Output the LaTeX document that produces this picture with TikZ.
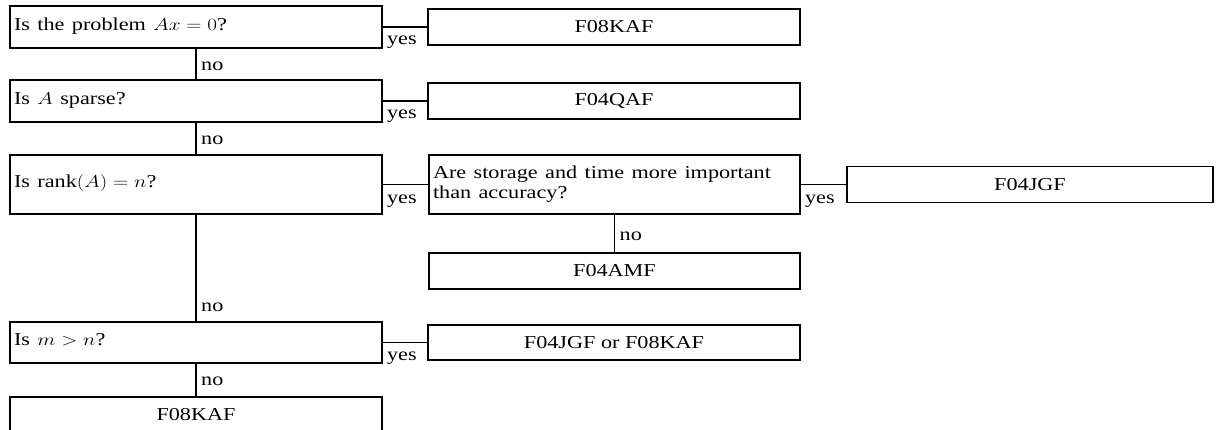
\documentclass[tikz,border=0pt]{standalone}
\usepackage{fontspec}
\setmainfont{Liberation Serif}
\usepackage{graphicx}
\newcommand{\wtxt}[1]{\scalebox{1.22}[1]{#1}}
\tikzset{
  box/.style={draw, line width=1.8pt, inner sep=4pt, font=\fontsize{18.2}{20}\selectfont},
  qbox/.style={box, text width=364pt, align=left, text height=12pt, text depth=5pt, minimum height=42pt},
  rbox/.style={box, minimum width=372pt, minimum height=36pt, align=center},
  conn/.style={line width=1.8pt},
  lab/.style={inner sep=0pt, font=\fontsize{18.2}{20}\selectfont},
}
\begin{document}
\begin{tikzpicture}[x=1pt,y=-1pt]
\useasboundingbox (0,0) rectangle (1216,430);
% question boxes
\node[qbox] (q1) at (196,27) {\wtxt{Is the problem $Ax=0$?}};
\node[qbox] (q2) at (196,101) {\wtxt{Is $A$ sparse?}};
\node[qbox, minimum height=59pt] (q3) at (196,184.5) {\wtxt{Is rank$(A)=n$?}};
\node[qbox, minimum height=41pt] (q4) at (196,342.5) {\wtxt{Is $m>n$?}};
\node[box, text width=363pt, align=left, minimum height=59pt] (q5) at (614.5,184.5)
  {\wtxt{\begin{tabular}{@{}l@{}}Are storage and time more important\\than accuracy?\end{tabular}}};
% result boxes
\node[rbox] (r1) at (614,27) {\wtxt{F08KAF}};
\node[rbox] (r2) at (614,101) {\wtxt{F04QAF}};
\node[rbox, minimum width=366pt] (r3) at (1030,184.5) {\wtxt{F04JGF}};
\node[rbox, minimum width=371pt] (r4) at (614.5,271) {\wtxt{F04AMF}};
\node[rbox, minimum height=35pt] (r5) at (614,342.5) {\wtxt{F04JGF or F08KAF}};
\node[rbox, minimum height=35pt] (r6) at (196,414.5) {\wtxt{F08KAF}};
% yes connectors
\draw[conn] (q1.east) -- (r1.west);
\draw[conn] (q2.east) -- (r2.west);
\draw[conn] (q3.east) -- (q5.west);
\draw[conn] (q5.east) -- (r3.west);
\draw[conn] (q4.east) -- (r5.west);
\node[lab, anchor=base west] (y1) at ([shift={(4,18)}]q1.east) {\wtxt{yes}};
\node[lab, anchor=base west] (y2) at ([shift={(4,18)}]q2.east) {\wtxt{yes}};
\node[lab, anchor=base west] (y3) at ([shift={(4,19)}]q3.east) {\wtxt{yes}};
\node[lab, anchor=base west] (y4) at ([shift={(4,19)}]q5.east) {\wtxt{yes}};
\node[lab, anchor=base west] (y5) at ([shift={(4,18)}]q4.east) {\wtxt{yes}};
% no connectors
\draw[conn] (q1.south) -- (q2.north);
\draw[conn] (q2.south) -- (q3.north);
\draw[conn] (q3.south) -- (q4.north);
\draw[conn] (q5.south) -- (r4.north);
\draw[conn] (q4.south) -- (r6.north);
\node[lab, anchor=base west] (n1) at ([shift={(5,-9)}]q2.north) {\wtxt{no}};
\node[lab, anchor=base west] (n2) at ([shift={(5,-10)}]q3.north) {\wtxt{no}};
\node[lab, anchor=base west] (n3) at ([shift={(5,-10)}]q4.north) {\wtxt{no}};
\node[lab, anchor=base west] (n4) at ([shift={(5,-12)}]r4.north) {\wtxt{no}};
\node[lab, anchor=base west] (n5) at ([shift={(5,-11)}]r6.north) {\wtxt{no}};
\end{tikzpicture}
\end{document}
